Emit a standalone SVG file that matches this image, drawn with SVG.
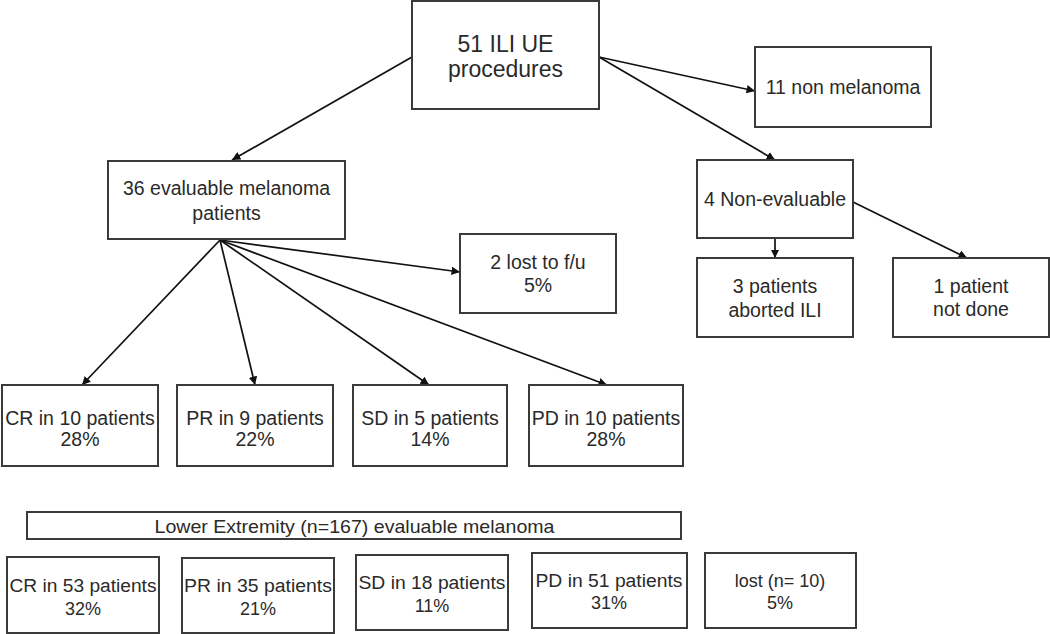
<svg xmlns="http://www.w3.org/2000/svg" width="1050" height="634" viewBox="0 0 1050 634">
<style>
.box{fill:#fff;stroke:#3a3a3a;stroke-width:2}
.t{font-family:"Liberation Sans",Arial,sans-serif;font-size:19.5px;fill:#2a2a2a;text-anchor:middle}
.big{font-size:23px}
.sm{font-size:18px}
.xs{font-size:18.5px}
.c{stroke:#111;stroke-width:1.7;fill:none;marker-end:url(#ah)}
</style>
<defs>
<marker id="ah" viewBox="0 0 10 10" refX="10" refY="5" markerWidth="5" markerHeight="5" orient="auto" markerUnits="strokeWidth">
<path d="M0,0 L10,5 L0,10 z" fill="#111"/>
</marker>
</defs>
<rect width="1050" height="634" fill="#fff"/>
<g id="connectors">
<line class="c" x1="412" y1="57" x2="232" y2="160"/>
<line class="c" x1="599" y1="57" x2="755" y2="91"/>
<line class="c" x1="599" y1="57" x2="775" y2="160"/>
<line class="c" x1="775" y1="238" x2="775" y2="258"/>
<line class="c" x1="853" y1="202" x2="967" y2="258"/>
<line class="c" x1="220" y1="240" x2="460" y2="272"/>
<line class="c" x1="220" y1="240" x2="82" y2="385"/>
<line class="c" x1="220" y1="240" x2="255" y2="385"/>
<line class="c" x1="220" y1="240" x2="429" y2="385"/>
<line class="c" x1="220" y1="240" x2="607" y2="385"/>
</g>
<g id="n-top"><rect class="box" x="412" y="1" width="187" height="108"/><text class="t big" x="505.5" y="52">51 ILI UE</text><text class="t big" x="505.5" y="77">procedures</text></g>
<g id="n-nonmel"><rect class="box" x="755" y="47" width="176" height="80"/><text class="t" x="843" y="94">11 non melanoma</text></g>
<g id="n-eval"><rect class="box" x="108" y="161" width="237" height="78"/><text class="t" x="226.5" y="195">36 evaluable melanoma</text><text class="t" x="226.5" y="220">patients</text></g>
<g id="n-lost2"><rect class="box" x="460" y="234" width="156" height="79"/><text class="t" x="538" y="269">2 lost to f/u</text><text class="t" x="538" y="292">5%</text></g>
<g id="n-noneval"><rect class="box" x="697" y="160" width="156" height="78"/><text class="t" x="775" y="206">4 Non-evaluable</text></g>
<g id="n-aborted"><rect class="box" x="697" y="258" width="156" height="79"/><text class="t" x="775" y="293">3 patients</text><text class="t" x="775" y="317">aborted ILI</text></g>
<g id="n-notdone"><rect class="box" x="893" y="258" width="156" height="79"/><text class="t" x="971" y="293">1 patient</text><text class="t" x="971" y="316">not done</text></g>
<g id="n-cr10"><rect class="box" x="2" y="385" width="156" height="81"/><text class="t" x="80" y="425">CR in 10 patients</text><text class="t" x="80" y="446">28%</text></g>
<g id="n-pr9"><rect class="box" x="177" y="385" width="156" height="81"/><text class="t" x="255" y="425">PR in 9 patients</text><text class="t" x="255" y="446">22%</text></g>
<g id="n-sd5"><rect class="box" x="353" y="385" width="154" height="81"/><text class="t" x="430" y="425">SD in 5 patients</text><text class="t" x="430" y="446">14%</text></g>
<g id="n-pd10"><rect class="box" x="529" y="385" width="154" height="81"/><text class="t" x="606" y="425">PD in 10 patients</text><text class="t" x="606" y="446">28%</text></g>
<g id="n-lower"><rect class="box" x="27" y="512" width="654" height="27"/><text class="t xs" x="354.5" y="533" textLength="400" lengthAdjust="spacingAndGlyphs">Lower Extremity (n=167) evaluable melanoma</text></g>
<g id="n-cr53"><rect class="box" x="7" y="557" width="152" height="76"/><text class="t sm" x="83" y="592" textLength="147" lengthAdjust="spacingAndGlyphs">CR in 53 patients</text><text class="t sm" x="83" y="615">32%</text></g>
<g id="n-pr35"><rect class="box" x="182" y="558" width="152" height="75"/><text class="t sm" x="258" y="592" textLength="148" lengthAdjust="spacingAndGlyphs">PR in 35 patients</text><text class="t sm" x="258" y="615">21%</text></g>
<g id="n-sd18"><rect class="box" x="356" y="555" width="152" height="75"/><text class="t sm" x="432" y="589" textLength="147" lengthAdjust="spacingAndGlyphs">SD in 18 patients</text><text class="t sm" x="432" y="612">11%</text></g>
<g id="n-pd51"><rect class="box" x="532" y="553" width="155" height="75"/><text class="t sm" x="609" y="587" textLength="147" lengthAdjust="spacingAndGlyphs">PD in 51 patients</text><text class="t sm" x="609" y="609">31%</text></g>
<g id="n-lost10"><rect class="box" x="705" y="553" width="151" height="75"/><text class="t sm" x="780" y="587">lost (n= 10)</text><text class="t sm" x="780" y="609">5%</text></g>
</svg>
